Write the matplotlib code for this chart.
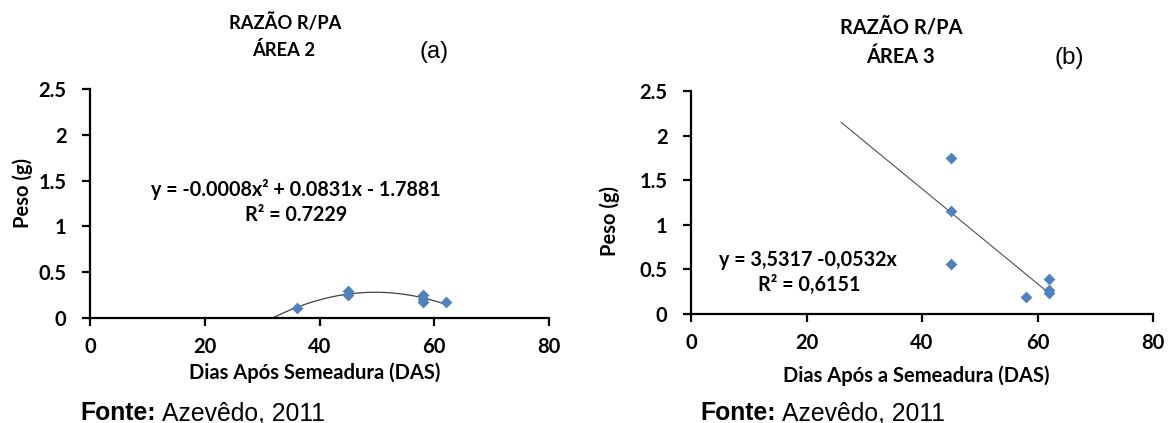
import numpy as np
import matplotlib
matplotlib.use("Agg")
import matplotlib.pyplot as plt

# ---- data ----
xa = [36, 45, 45, 58, 58, 58, 62]
ya = [0.11, 0.29, 0.25, 0.25, 0.21, 0.17, 0.18]
trend_a = [-0.00088, 0.0875, -1.894]      # quadratic trendline as drawn
trend_a_range = [20, 62]

xb = [45, 45, 45, 58, 62, 62, 62]
yb = [1.75, 1.15, 0.565, 0.185, 0.395, 0.27, 0.23]
trend_b = [-0.0532, 3.5317]
trend_b_range = [26, 62]

xticks = [0, 20, 40, 60, 80]
yticks = [0, 0.5, 1, 1.5, 2, 2.5]
ytick_labels = ["0", "0.5", "1", "1.5", "2", "2.5"]

FONT = "Lato"
BLUE = "#4F81BD"
W, H = 1173, 423

fig = plt.figure(figsize=(W / 100, H / 100), dpi=100)

def fx(px):
    return px / W

def fy(py):
    return 1 - py / H

def setup(ax):
    ax.set_xlim(0, 80)
    ax.set_ylim(0, 2.5)
    ax.set_xticks(xticks)
    ax.set_yticks(yticks)
    ax.set_yticklabels(ytick_labels)
    for s in ["top", "right"]:
        ax.spines[s].set_visible(False)
    for s in ["left", "bottom"]:
        ax.spines[s].set_linewidth(1.6)
        ax.spines[s].set_color("black")
    ax.tick_params(direction="out", length=6, width=1.6)
    ax.tick_params(axis="x", pad=8)
    ax.tick_params(axis="y", pad=11)
    for lab in ax.get_xticklabels() + ax.get_yticklabels():
        lab.set_fontfamily(FONT)
        lab.set_fontweight("bold")
        lab.set_fontsize(14.5)

bold = dict(fontfamily=FONT, fontweight="bold")

# Left panel
ax1 = fig.add_axes([fx(90), fy(318), fx(549 - 90), (318 - 89) / H])
setup(ax1)
xs = np.linspace(trend_a_range[0], trend_a_range[1], 200)
ax1.plot(xs, np.polyval(trend_a, xs), color="#404040", lw=0.9, zorder=2)
ax1.scatter(xa, ya, marker="D", s=36, color=BLUE, zorder=3, linewidths=0)

# Right panel
ax2 = fig.add_axes([fx(691), fy(314), fx(1153 - 691), (314 - 91) / H])
setup(ax2)
xs2 = np.linspace(trend_b_range[0], trend_b_range[1], 2)
ax2.plot(xs2, np.polyval(trend_b, xs2), color="#505050", lw=0.8, zorder=2)
ax2.scatter(xb, yb, marker="D", s=36, color=BLUE, zorder=3, linewidths=0)

# axis labels
fig.text(fx(315), fy(373), "Dias Após Semeadura (DAS)", ha="center", va="center", fontsize=14.5, **bold)
fig.text(fx(916), fy(376), "Dias Após a Semeadura (DAS)", ha="center", va="center", fontsize=14.5, **bold)
fig.text(fx(23), fy(193), "Peso (g)", ha="center", va="center", rotation=90, fontsize=14.5, **bold)
fig.text(fx(610), fy(221), "Peso (g)", ha="center", va="center", rotation=90, fontsize=14.5, **bold)

# equations
fig.text(fx(296), fy(189), "y = -0.0008x² + 0.0831x - 1.7881", ha="center", va="center", fontsize=14.2, **bold)
fig.text(fx(296), fy(215), "R² = 0.7229", ha="center", va="center", fontsize=14.2, **bold)
fig.text(fx(808), fy(260), "y = 3,5317 -0,0532x", ha="center", va="center", fontsize=14.2, **bold)
fig.text(fx(809), fy(285), "R² = 0,6151", ha="center", va="center", fontsize=14.2, **bold)

# Titles
fig.text(fx(285), fy(23), "RAZÃO R/PA", ha="center", va="center", fontsize=13.2, **bold)
fig.text(fx(284), fy(50), "ÁREA 2", ha="center", va="center", fontsize=13.2, **bold)
fig.text(fx(434), fy(52), "(a)", ha="center", va="center", fontfamily="Liberation Sans", fontsize=17)

fig.text(fx(901), fy(27), "RAZÃO R/PA", ha="center", va="center", fontsize=14.4, **bold)
fig.text(fx(900), fy(57), "ÁREA 3", ha="center", va="center", fontsize=14.4, **bold)
fig.text(fx(1069), fy(58), "(b)", ha="center", va="center", fontfamily="Liberation Sans", fontsize=17.5)

for x0 in (80, 700):
    t = fig.text(fx(x0), fy(413), "Fonte:", ha="left", va="center",
                 fontfamily="Liberation Sans", fontweight="bold", fontsize=17.8)
    fig.canvas.draw()
    bb = t.get_window_extent()
    fig.text(fx(bb.x1 + 6), fy(413), "Azevêdo, 2011", ha="left", va="center",
             fontfamily="Liberation Sans", fontsize=17.8)

fig.savefig("out.png", dpi=100, facecolor="white")
